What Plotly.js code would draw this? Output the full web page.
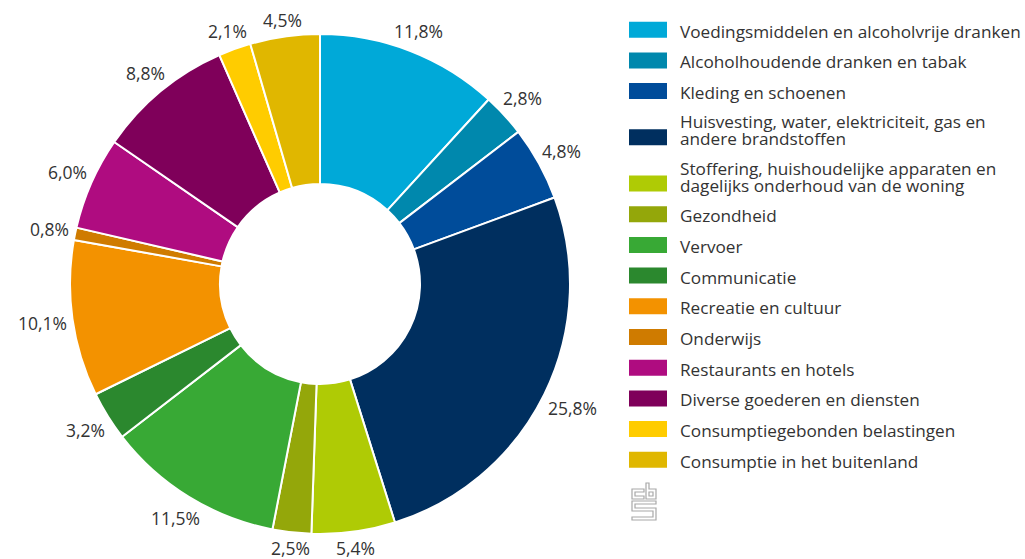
<!DOCTYPE html>
<html>
<head>
<meta charset="utf-8">
<script src="https://cdn.plot.ly/plotly-3.0.1.min.js"></script>
<style>
html,body{margin:0;padding:0;background:#fff;}
#chart{width:1025px;height:559px;}
</style>
</head>
<body>
<div id="chart"></div>
<script>
// ---- Data ----
const categories = [
  "Voedingsmiddelen en alcoholvrije dranken",
  "Alcoholhoudende dranken en tabak",
  "Kleding en schoenen",
  "Huisvesting, water, elektriciteit, gas en<br>andere brandstoffen",
  "Stoffering, huishoudelijke apparaten en<br>dagelijks onderhoud van de woning",
  "Gezondheid",
  "Vervoer",
  "Communicatie",
  "Recreatie en cultuur",
  "Onderwijs",
  "Restaurants en hotels",
  "Diverse goederen en diensten",
  "Consumptiegebonden belastingen",
  "Consumptie in het buitenland"
];
const shares = [11.8, 2.8, 4.8, 25.8, 5.4, 2.5, 11.5, 3.2, 10.1, 0.8, 6.0, 8.8, 2.1, 4.5];
const colors = ["#00A9D8","#0088AD","#004C9A","#002F5F","#AFCB05","#94A70A","#38A935",
                "#2B882E","#F39200","#CF7B00","#AF0C80","#7F005A","#FFCC00","#E0B700"];

// ---- Layout helpers ----
const W = 1025, H = 559;
const px = x => x / W;
const py = y => 1 - y / H;
const FONT = "Open Sans, Noto Sans, sans-serif";
const TXT = "#333333";
const CX = 320, CY = 284, R = 250;
const LBL_SIZE = 17.5;

const donut = {
  type: "pie",
  labels: categories.map(c => c.replace("<br>", " ")),
  values: shares,
  sort: false,
  direction: "clockwise",
  rotation: 0,
  hole: 0.4,
  marker: {colors: colors, line: {color: "#ffffff", width: 2}},
  textinfo: "none",
  domain: {x: [px(CX - R), px(CX + R)], y: [py(CY + R), py(CY - R)]},
  showlegend: false,
  hoverinfo: "label+value"
};

const shapes = [];
const annotations = [];

// Percentage labels placed outside each slice, along the slice's mid-angle
const charW = ch => (ch === "," ? 0.25 : ch === "%" ? 0.84 : 0.572);
const total = shares.reduce((a, b) => a + b, 0);
let cum = 0;
shares.forEach(v => {
  const mid = (cum + v / 2) / total * 2 * Math.PI;
  cum += v;
  const txt = v.toFixed(1).replace(".", ",") + "%";
  const hw = [...txt].reduce((a, ch) => a + charW(ch), 0) * LBL_SIZE / 2;
  const hh = 8.5;
  const s = Math.sin(mid), c = Math.cos(mid);
  const r = R + 5 + hw * Math.abs(s) + hh * Math.abs(c);
  annotations.push({
    xref: "paper", yref: "paper",
    x: px(CX + r * s), y: py(CY - r * c),
    xanchor: "center", yanchor: "middle", showarrow: false,
    text: txt, font: {family: FONT, size: LBL_SIZE, color: TXT}
  });
});

// Custom legend built from the category/colour arrays
let twoLineCount = 0;
categories.forEach((cat, i) => {
  const lines = cat.split("<br>");
  if (lines.length > 1) twoLineCount++;
  const cy = 29.7 + 30.7 * i + 15.5 * twoLineCount;
  shapes.push({
    type: "rect", xref: "paper", yref: "paper",
    x0: px(629), x1: px(667), y0: py(cy + 8), y1: py(cy - 8),
    fillcolor: colors[i], line: {width: 0}
  });
  lines.forEach((ln, j) => {
    const ly = cy + 1.5 - 16.8 * (lines.length - 1 - j);
    annotations.push({
      xref: "paper", yref: "paper", x: px(678), y: py(ly),
      xanchor: "left", yanchor: "middle", showarrow: false,
      text: ln, font: {family: FONT, size: 17.2, color: TXT}
    });
  });
});

// CBS logo outline (decorative)
const P = (pts) => pts.map((p, k) => (k ? "L" : "M") + px(p[0]) + "," + py(p[1])).join(" ") + " Z";
const logoCol = "#a8a8a8";
const logoPaths = [
  P([[644,489],[632,489],[632,499],[644,499],[644,496],[635,496],[635,492],[644,492]]),
  P([[646,483],[649,483],[649,489],[656,489],[656,499],[646,499]]),
  P([[649,492],[653,492],[653,496],[649,496]]),
  P([[656,501],[632,501],[632,511],[653,511],[653,517],[632,517],[632,520],[656,520],[656,508],[635,508],[635,504],[656,504]])
];
logoPaths.forEach(p => shapes.push({
  type: "path", xref: "paper", yref: "paper", path: p,
  line: {color: logoCol, width: 1.2}, fillcolor: "rgba(0,0,0,0)"
}));

const layout = {
  width: W, height: H,
  margin: {l: 0, r: 0, t: 0, b: 0},
  paper_bgcolor: "#ffffff",
  plot_bgcolor: "#ffffff",
  separators: ",.",
  font: {family: FONT, color: TXT},
  showlegend: false,
  shapes: shapes,
  annotations: annotations
};

Plotly.newPlot("chart", [donut], layout, {displayModeBar: false, staticPlot: true});
</script>
</body>
</html>
